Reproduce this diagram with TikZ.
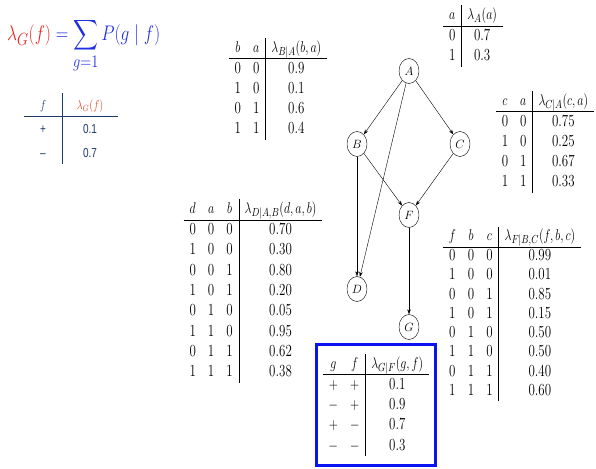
\documentclass[tikz,border=0pt]{standalone}
\usepackage{amsmath}
\usepackage{fontspec}
\usepackage{graphicx}
\usetikzlibrary{arrows.meta,shapes.geometric}
\newfontfamily\arialfont{Liberation Sans}
\definecolor{formred}{HTML}{E8231F}
\definecolor{formblue}{HTML}{2030E0}
\definecolor{navy}{HTML}{1F3A66}
\definecolor{hdrred}{HTML}{E84A2C}
\definecolor{boxblue}{HTML}{0A14F0}
\tikzset{
  var/.style={draw, ellipse, minimum width=20pt, minimum height=25pt,
    inner sep=0pt, font=\fontsize{13}{15}\selectfont},
  tab/.style={inner sep=0pt, font=\fontsize{13}{15.6}\selectfont},
  edge/.style={-{Stealth[length=5pt,width=3.5pt]}, thin},
}
\newcommand{\tallx}[1]{\scalebox{1}[1.3]{#1}}

\begin{document}
\begin{tikzpicture}[x=1pt, y=-1pt]
  \useasboundingbox (0,0) rectangle (596,468);
  % the network
  \node[var] (A) at (409,71) {$A$};
  \node[var] (B) at (357,144) {$B$};
  \node[var] (C) at (460,144) {$C$};
  \node[var] (F) at (409,215) {$F$};
  \node[var] (D) at (357,289) {$D$};
  \node[var] (G) at (409,327) {$G$};
  \draw[edge] (A) -- (B); \draw[edge] (A) -- (C); \draw[edge] (A) -- (D);
  \draw[edge] (B) -- (D); \draw[edge] (B) -- (F); \draw[edge] (C) -- (F);
  \draw[edge] (F) -- (G);
  % formula and the lambda table for f
  \node[anchor=base west, inner sep=0pt, font=\fontsize{19}{23}\selectfont] (formula) at (7,41)
    {\scalebox{1}[1.22]{$\color{formred}\lambda_G(f) \color{formblue}= \displaystyle\sum_{g=1} P(g \mid f)$}};
  \node[tab, text=navy, font=\arialfont\fontsize{10}{12}\selectfont] (tabLam) at (71,128.5)
    {\tallx{\setlength\arrayrulewidth{1pt}\renewcommand{\arraystretch}{1.5}%
    \begin{tabular}{c|c}
      \makebox[26pt]{$f$} & \makebox[44pt]{\textcolor{hdrred}{$\lambda_G(f)$}} \\ \hline
      + & 0.1 \\
      \textendash & 0.7
    \end{tabular}}};
  % conditional tables
  \node[tab] (tabA) at (473,36) {\tallx{\begin{tabular}{c|c}
      $a$ & $\lambda_A(a)$ \\ \hline
      0 & 0.7 \\
      1 & 0.3
    \end{tabular}}};
  \node[tab] (tabB) at (278,89) {\tallx{\begin{tabular}{cc|c}
      $b$ & $a$ & $\lambda_{B|A}(b,a)$ \\ \hline
      0 & 0 & 0.9 \\
      1 & 0 & 0.1 \\
      0 & 1 & 0.6 \\
      1 & 1 & 0.4
    \end{tabular}}};
  \node[tab] (tabC) at (545,142) {\tallx{\begin{tabular}{cc|c}
      $c$ & $a$ & $\lambda_{C|A}(c,a)$ \\ \hline
      0 & 0 & 0.75 \\
      1 & 0 & 0.25 \\
      0 & 1 & 0.67 \\
      1 & 1 & 0.33
    \end{tabular}}};
  \node[tab] (tabD) at (253,291) {\tallx{\begin{tabular}{ccc|c}
      $d$ & $a$ & $b$ & $\lambda_{D|A,B}(d,a,b)$ \\ \hline
      0 & 0 & 0 & 0.70 \\
      1 & 0 & 0 & 0.30 \\
      0 & 0 & 1 & 0.80 \\
      1 & 0 & 1 & 0.20 \\
      0 & 1 & 0 & 0.05 \\
      1 & 1 & 0 & 0.95 \\
      0 & 1 & 1 & 0.62 \\
      1 & 1 & 1 & 0.38
    \end{tabular}}};
  \node[tab] (tabF) at (512,314) {\tallx{\renewcommand{\arraystretch}{0.95}%
    \begin{tabular}{ccc|c}
      $f$ & $b$ & $c$ & $\lambda_{F|B,C}(f,b,c)$ \\ \hline
      0 & 0 & 0 & 0.99 \\
      1 & 0 & 0 & 0.01 \\
      0 & 0 & 1 & 0.85 \\
      1 & 0 & 1 & 0.15 \\
      0 & 1 & 0 & 0.50 \\
      1 & 1 & 0 & 0.50 \\
      0 & 1 & 1 & 0.40 \\
      1 & 1 & 1 & 0.60
    \end{tabular}}};
  \node[tab, draw=boxblue, line width=2.5pt, minimum width=119pt, minimum height=121pt]
    (tabG) at (376,405) {\tallx{\begin{tabular}{cc|c}
      $g$ & $f$ & $\lambda_{G|F}(g,f)$ \\ \hline
      $+$ & $+$ & 0.1 \\
      $-$ & $+$ & 0.9 \\
      $+$ & $-$ & 0.7 \\
      $-$ & $-$ & 0.3
    \end{tabular}}};
\end{tikzpicture}
\end{document}
